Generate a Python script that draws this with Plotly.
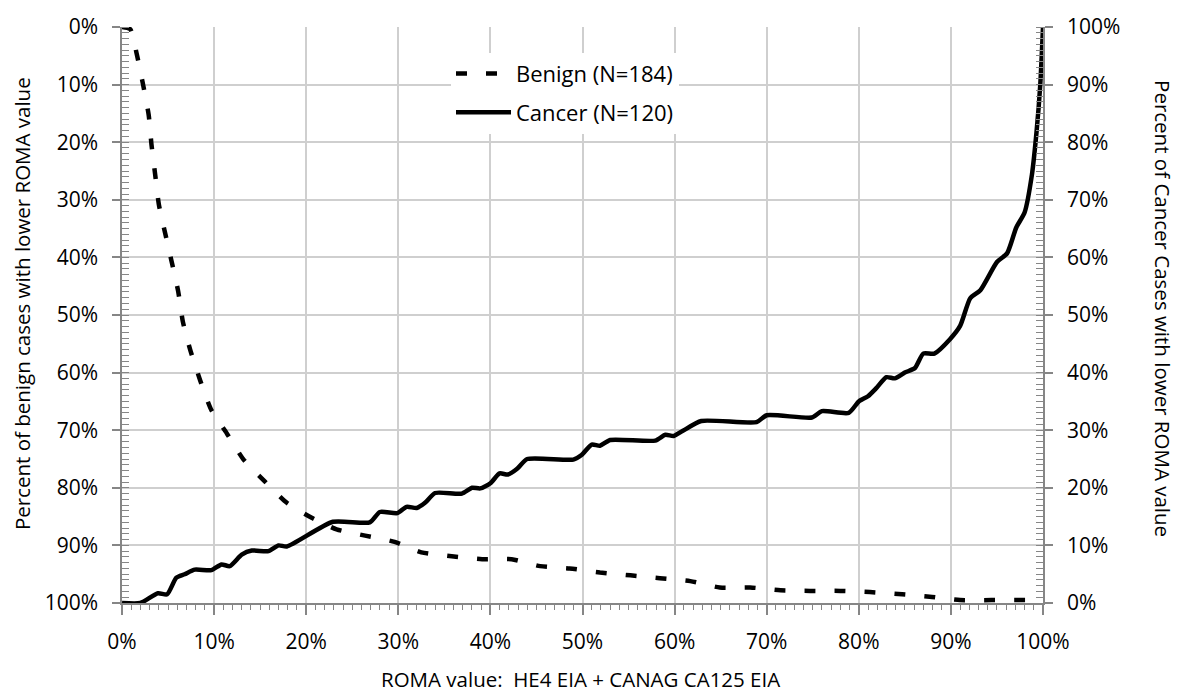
import plotly.graph_objects as go

# ROMA value (%) and cumulative percentages
cancer_roma = [0, 2, 3.9, 4.9, 5.9, 6.8, 7.9, 9.7, 10.8, 11.7, 13.0, 14.1, 15.9, 17.0, 17.9,
               22.9, 26.9, 28.0, 29.9, 30.9, 32.0, 32.9, 34.0, 36.9, 38.0, 38.9, 40.0, 41.0,
               41.9, 42.9, 44.0, 49.0, 49.9, 51.0, 51.9, 53.0, 57.9, 59.0, 59.9, 60.9, 62.9,
               68.9, 70.0, 74.9, 76.0, 78.9, 80.0, 81.0, 81.9, 83.0, 83.9, 85.0, 86.1, 87.0,
               88.2, 89.9, 91.0, 92.1, 93.2, 95.0, 96.1, 97.1, 98.0, 98.8, 99.3, 99.7, 100]
cancer_pct = [0, 0, 1.7, 1.5, 4.4, 5.0, 5.8, 5.7, 6.7, 6.4, 8.4, 9.1, 9.0, 10.0, 9.8,
              14.1, 14.0, 15.8, 15.6, 16.7, 16.5, 17.4, 19.1, 19.0, 20.0, 19.9, 20.8, 22.5,
              22.3, 23.3, 25.0, 24.9, 25.7, 27.5, 27.3, 28.3, 28.2, 29.2, 29.0, 29.9, 31.6,
              31.4, 32.6, 32.2, 33.3, 33.0, 35.0, 35.9, 37.3, 39.2, 39.0, 40.0, 40.8, 43.3,
              43.3, 45.8, 48.1, 52.9, 54.3, 59.2, 60.7, 65.2, 67.8, 74.4, 81.8, 89.9, 100]

benign_roma = [0, 0.9, 1.6, 2.3, 2.9, 3.2, 3.6, 4.0, 4.7, 5.4, 6.1, 6.6, 7.4, 8.5, 9.7,
               11.4, 13.2, 15.5, 17.9, 20.6, 23.3, 26.4, 29.6, 32.5, 35.8, 39.1, 42.3, 45.4,
               48.6, 51.9, 55.2, 58.4, 61.7, 64.9, 68.2, 71.5, 74.7, 78.0, 81.2, 84.7, 87.7,
               91.0, 94.4, 97.7, 100]
benign_pct = [0, 0.4, 4.7, 10.1, 15.3, 20.4, 25.6, 30.8, 35.9, 40.8, 45.9, 51.1, 56.0, 61.4,
              66.5, 70.6, 75.1, 78.9, 82.6, 85.2, 87.2, 88.3, 89.4, 91.2, 91.9, 92.4, 92.4,
              93.6, 94.0, 94.7, 95.2, 95.7, 96.2, 97.3, 97.3, 97.8, 97.9, 97.9, 98.1, 98.5,
              98.9, 99.5, 99.5, 99.5, 99.5]

series_names = ["Benign (N=184)", "Cancer (N=120)"]
x_title = "ROMA value:  HE4 EIA + CANAG CA125 EIA"
y_left_title = "Percent of benign cases with lower ROMA value"
y_right_title = "Percent of Cancer Cases with lower ROMA value"

FONT = "Open Sans"
AX = "#868686"
GRID = "#cfcfcf"

fig = go.Figure()
fig.add_trace(go.Scatter(
    x=[v / 100 for v in benign_roma], y=[v / 100 for v in benign_pct],
    name=series_names[0], mode="lines", yaxis="y", legendgroup="a",
    line=dict(color="black", width=4.5, dash="11px,19px", shape="spline", smoothing=0.6),
))
fig.add_trace(go.Scatter(
    x=[v / 100 for v in cancer_roma], y=[v / 100 for v in cancer_pct],
    name=series_names[1], mode="lines", yaxis="y2", legendgroup="b",
    line=dict(color="black", width=4.5, shape="spline", smoothing=0.6),
))

tickfont = dict(family=FONT, size=21, color="black")
titlefont = dict(family=FONT, size=20.5, color="black")

fig.update_layout(
    width=1181, height=699,
    margin=dict(l=122, r=138, t=21, b=96),
    paper_bgcolor="white", plot_bgcolor="white",
    font=dict(family=FONT, color="black"),
    showlegend=True,
    legend=dict(
        x=(451 - 122) / 921, y=(603 - 47) / 582, xanchor="left", yanchor="top",
        bgcolor="white", font=dict(family=FONT, size=22, color="black"),
        tracegroupgap=7, traceorder="grouped", itemwidth=55,
    ),
    xaxis=dict(
        range=[0, 1], tickformat=".0%", dtick=0.1, tick0=0,
        showline=True, linecolor=AX, linewidth=1.5,
        ticks="outside", ticklen=10, tickcolor=AX, tickwidth=1.5,
        minor=dict(dtick=0.01, ticks="outside", ticklen=5, tickcolor=AX, tickwidth=1, showgrid=False),
        showgrid=True, gridcolor=GRID, gridwidth=1.5,
        tickfont=tickfont, ticklabelstandoff=9, zeroline=False,
    ),
    yaxis=dict(
        range=[1, 0], tickformat=".0%", dtick=0.1, tick0=0,
        showline=True, linecolor=AX, linewidth=1.5,
        ticks="outside", ticklen=8, tickcolor=AX, tickwidth=1.5,
        minor=dict(dtick=0.01, ticks="inside", ticklen=7, tickcolor=AX, tickwidth=1, showgrid=False),
        showgrid=True, gridcolor=GRID, gridwidth=1.5,
        tickfont=tickfont, ticklabelstandoff=10, zeroline=False,
    ),
    yaxis2=dict(
        range=[0, 1], tickformat=".0%", dtick=0.1, tick0=0,
        overlaying="y", side="right",
        showline=True, linecolor=AX, linewidth=1.5,
        ticks="outside", ticklen=8, tickcolor=AX, tickwidth=1.5,
        minor=dict(dtick=0.01, ticks="inside", ticklen=7, tickcolor=AX, tickwidth=1, showgrid=False),
        showgrid=False, tickfont=tickfont, ticklabelstandoff=10, zeroline=False,
    ),
    annotations=[
        dict(text=y_left_title, xref="paper", yref="paper", x=(22 - 122) / 921, y=(603 - 301) / 582,
             xanchor="center", yanchor="middle", textangle=-90, showarrow=False, font=titlefont),
        dict(text=y_right_title, xref="paper", yref="paper", x=(1163 - 122) / 921, y=(603 - 305) / 582,
             xanchor="center", yanchor="middle", textangle=90, showarrow=False, font=titlefont),
        dict(text=x_title, xref="paper", yref="paper", x=(580 - 122) / 921, y=(603 - 680) / 582,
             xanchor="center", yanchor="middle", showarrow=False, font=titlefont),
    ],
)

fig.write_html("out.html")
